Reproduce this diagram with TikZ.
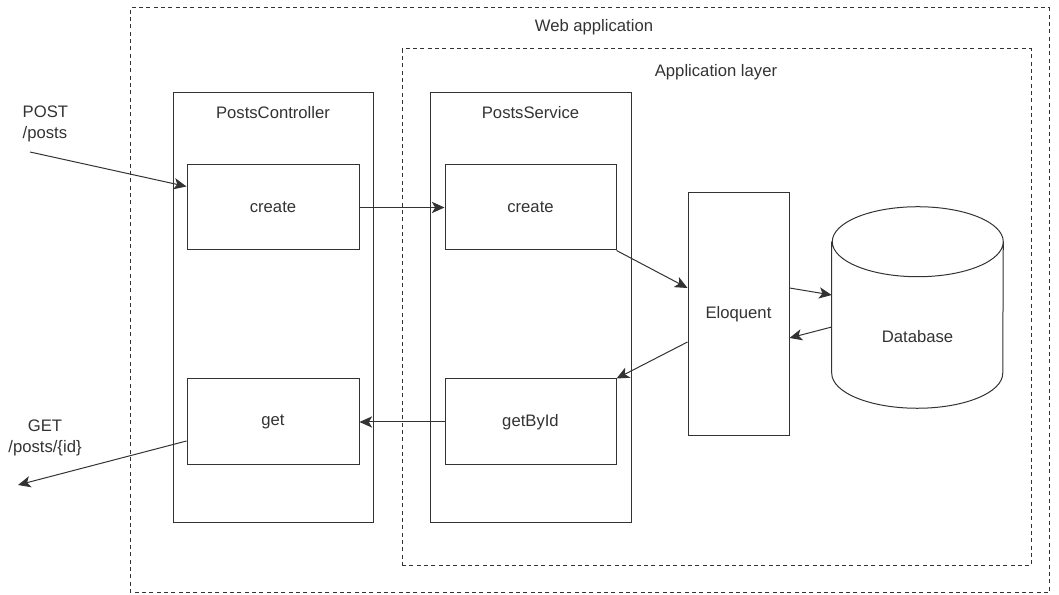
\documentclass[tikz,border=0pt]{standalone}
\usepackage{fontspec}
\setmainfont{Liberation Sans}
\usetikzlibrary{arrows.meta,calc}
\definecolor{ink}{HTML}{333333}
\begin{document}
\begin{tikzpicture}[x=0.75pt,y=0.75pt,
  font=\fontsize{12.5}{16}\selectfont, text=ink,
  frame/.style={draw=ink,line width=0.75pt,dash pattern=on 3pt off 2.5pt},
  block/.style={draw=ink,line width=0.75pt,shape=rectangle,inner sep=0pt},
  sz/.style 2 args={minimum width=#1*0.75pt,minimum height=#2*0.75pt},
  flow/.style={-{Stealth[length=9.5pt,width=8.5pt,inset=2.5pt]},draw=ink,line width=0.75pt}]
\useasboundingbox (0,0) rectangle (1059,595);
\draw[frame] (130,2) rectangle (1049,587);
\node at (594,568) {Web application};
\draw[frame] (402,29) rectangle (1031,546);
\node at (716,523) {Application layer};
\node[block,sz={200}{430}](PC) at (273,287){};
\node at (273,482) {PostsController};
\node[block,sz={172}{85}](CC) at (273,387.5){create};
\node[block,sz={172}{86}](CG) at (273,173){get};
\node[block,sz={201}{430}](PS) at (530.5,287){};
\node at (530.5,482) {PostsService};
\node[block,sz={171}{85}](SC) at (530.5,387.5){create};
\node[block,sz={171}{86}](SG) at (530.5,173){getById};
\node[block,sz={101}{243}](EL) at (738.5,280.5){Eloquent};
% database cylinder
\node[sz={171}{201},inner sep=0pt](DB) at (917.5,287.5){};
\node at (917.5,258) {Database};
\draw[ink,line width=0.75pt] ($(DB.north west)+(0,-35)$) -- ($(DB.south west)+(0,35)$)
  arc[start angle=180,end angle=360,x radius=64.125pt,y radius=26.25pt]
  -- ($(DB.north east)+(0,-35)$)
  arc[start angle=0,end angle=360,x radius=64.125pt,y radius=26.25pt];
% requests
\node[anchor=west,align=left](POST) at (18,471){POST\\/posts};
\coordinate (in) at (30,443);
\draw[flow] (in) -- ($(CC.west)+(0,21)$);
\node[align=center](GET) at (45,157){GET\\/posts/\{id\}};
\coordinate (out) at (18,110);
\draw[flow] ($(CG.west)+(0,-19)$) -- (out);
\draw[flow] (CC) -- (SC);
\draw[flow] (SC.south east) -- ($(EL.west)+(0,26.5)$);
\draw[flow] ($(EL.east)+(0,26.5)$) -- ($(DB.west)+(0,12.5)$);
\draw[flow] ($(DB.west)+(0,-19.5)$) -- ($(EL.east)+(0,-23.5)$);
\draw[flow] ($(EL.west)+(0,-27.5)$) -- (SG.north east);
\draw[flow] (SG) -- (CG);
\end{tikzpicture}
\end{document}
